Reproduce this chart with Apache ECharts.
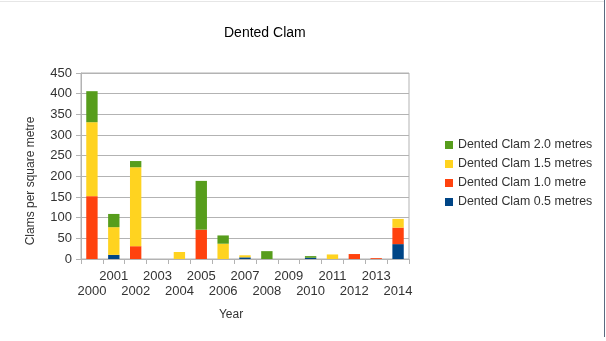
<!DOCTYPE html>
<html>
<head>
<meta charset="utf-8">
<script src="https://cdn.jsdelivr.net/npm/echarts@6/dist/echarts.min.js"></script>
<style>
  html, body { margin: 0; padding: 0; background: #fff; }
  #chart { width: 606px; height: 341px; }
</style>
</head>
<body>
<div id="chart"></div>
<script>
// Dented clam densities by year and depth (clams per square metre)
const years = ['2000','2001','2002','2003','2004','2005','2006','2007','2008','2009','2010','2011','2012','2013','2014'];
const depth05 = [0, 10, 0, 0, 0, 0, 0, 4, 0, 0, 3, 0, 0, 0, 36];
const depth10 = [152, 0, 31, 0, 0, 71, 0, 0, 0, 0, 0, 0, 12, 2, 40];
const depth15 = [179, 67, 191, 0, 17, 0, 37, 5, 0, 0, 0, 11, 0, 0, 21];
const depth20 = [75, 32, 15, 0, 0, 118, 20, 0, 19, 0, 4, 0, 0, 0, 0];
const seriesNames = ['Dented Clam 0.5 metres', 'Dented Clam 1.0 metre', 'Dented Clam 1.5 metres', 'Dented Clam 2.0 metres'];
const yTicks = { min: 0, max: 450, step: 50 };

const FONT = '"Liberation Sans", Arial, sans-serif';
const GRID_GREY = '#b3b3b3';
const colors = ['#004586', '#ff420e', '#ffd320', '#579d1c'];
const values = [depth05, depth10, depth15, depth20];

const chart = echarts.init(document.getElementById('chart'), null, { renderer: 'canvas' });

chart.setOption({
  animation: false,
  textStyle: { fontFamily: FONT },
  title: {
    text: 'Dented Clam',
    left: 219,
    top: 21,
    textStyle: { fontFamily: FONT, fontSize: 14, fontWeight: 'normal', color: '#000' }
  },
  legend: {
    orient: 'vertical',
    left: 440,
    top: 133,
    itemWidth: 8,
    itemHeight: 8,
    itemGap: 5,
    icon: 'rect',
    data: [seriesNames[3], seriesNames[2], seriesNames[1], seriesNames[0]],
    textStyle: { fontFamily: FONT, fontSize: 12.4, color: '#333', lineHeight: 14 }
  },
  grid: {
    left: 81, right: 197, top: 73, bottom: 82,
    show: true, borderColor: GRID_GREY, borderWidth: 1, backgroundColor: 'transparent'
  },
  xAxis: {
    type: 'category',
    data: years,
    name: 'Year',
    nameLocation: 'middle',
    nameGap: 50,
    nameTextStyle: { fontFamily: FONT, fontSize: 12, color: '#333', padding: [0, 28, 0, 0] },
    axisLine: { lineStyle: { color: GRID_GREY } },
    axisTick: { show: true, length: 5, lineStyle: { color: GRID_GREY } },
    axisLabel: {
      interval: 0,
      margin: 10,
      fontFamily: FONT,
      fontSize: 13,
      color: '#333',
      lineHeight: 15,
      formatter: (v, i) => (i % 2 === 0 ? '\n' + v : v)
    }
  },
  yAxis: {
    type: 'value',
    min: yTicks.min,
    max: yTicks.max,
    interval: yTicks.step,
    name: 'Clams per square metre',
    nameLocation: 'middle',
    nameGap: 44,
    nameTextStyle: { fontFamily: FONT, fontSize: 12, color: '#333', padding: [0, 30, 0, 0] },
    axisLine: { show: true, lineStyle: { color: GRID_GREY } },
    axisTick: { show: true, length: 5, lineStyle: { color: GRID_GREY } },
    axisLabel: { margin: 9, fontFamily: FONT, fontSize: 13, color: '#333' },
    splitLine: { lineStyle: { color: GRID_GREY, width: 1 } }
  },
  series: seriesNames.map((name, k) => ({
    name: name,
    type: 'bar',
    stack: 'depth',
    barWidth: '52%',
    itemStyle: { color: colors[k] },
    data: values[k]
  })),
  graphic: [
    { type: 'rect', shape: { x: 0, y: 1, width: 604, height: 1 }, style: { fill: '#e6e6e6' }, silent: true },
    { type: 'rect', shape: { x: 604, y: 0, width: 1, height: 337 }, style: { fill: '#5a6a80' }, silent: true }
  ]
});
</script>
</body>
</html>
